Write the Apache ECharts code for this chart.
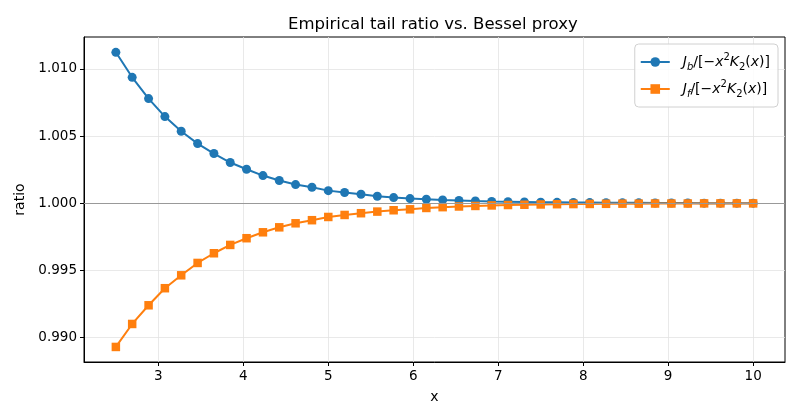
<!DOCTYPE html>
<html lang="en">
<head>
    <meta charset="UTF-8">
    <title>Empirical tail ratio vs. Bessel proxy</title>
    <script src="https://cdn.jsdelivr.net/npm/echarts@6/dist/echarts.min.js"></script>
    <style>
        html, body { margin: 0; padding: 0; background: #fff; }
        #chart { width: 800px; height: 420px; }
    </style>
</head>
<body>
<div id="chart"></div>
<script type="text/javascript">
    // x grid, 40 points from 2.5 to 10
    var xs = [2.5, 2.692, 2.885, 3.077, 3.269, 3.462, 3.654, 3.846, 4.038, 4.231,
        4.423, 4.615, 4.808, 5.0, 5.192, 5.385, 5.577, 5.769, 5.962, 6.154,
        6.346, 6.538, 6.731, 6.923, 7.115, 7.308, 7.5, 7.692, 7.885, 8.077,
        8.269, 8.462, 8.654, 8.846, 9.038, 9.231, 9.423, 9.615, 9.808, 10.0];
    // J_b / [-x^2 K_2(x)]
    var boson = [1.01123, 1.00937, 1.00779, 1.00645, 1.00536, 1.00444, 1.00370, 1.00303, 1.00253, 1.00206,
        1.00169, 1.00139, 1.00119, 1.00094, 1.00080, 1.00067, 1.00052, 1.00042, 1.00035, 1.00030,
        1.00025, 1.00021, 1.00017, 1.00014, 1.00012, 1.00010, 1.00008, 1.00007, 1.00006, 1.00005,
        1.00004, 1.00003, 1.00003, 1.00002, 1.00002, 1.00002, 1.00001, 1.00001, 1.00001, 1.00001];
    // J_f / [-x^2 K_2(x)]
    var fermion = [0.98931, 0.99102, 0.99241, 0.99368, 0.99464, 0.99556, 0.99628, 0.99690, 0.99740, 0.99784,
        0.99821, 0.99851, 0.99874, 0.99898, 0.99913, 0.99926, 0.99938, 0.99948, 0.99955, 0.99965,
        0.99971, 0.99976, 0.99980, 0.99984, 0.99987, 0.99989, 0.99991, 0.99993, 0.99994, 0.99995,
        0.99996, 0.99997, 0.99997, 0.99998, 0.99998, 0.99998, 0.99999, 0.99999, 0.99999, 0.99999];
    var xTicks = [3, 4, 5, 6, 7, 8, 9, 10];
    var yTicks = [0.990, 0.995, 1.000, 1.005, 1.010];

    var nameB = 'Jb/[-x^2 K2(x)]';
    var nameF = 'Jf/[-x^2 K2(x)]';
    var legendText = {};
    legendText[nameB] = '{i|J}{sbi|b}{n|/[−}{i|x}{sp|2}{i|K}{sb|2}{n|(}{i|x}{n|)]}';
    legendText[nameF] = '{i|J}{sbi|f}{n|/[−}{i|x}{sp|2}{i|K}{sb|2}{n|(}{i|x}{n|)]}';

    function pairs(ys) {
        return xs.map(function (x, i) { return [x, ys[i]]; });
    }

    var font = 'DejaVu Sans';
    var chart = echarts.init(document.getElementById('chart'));
    var option = {
        animation: false,
        textStyle: { fontFamily: font },
        graphic: [{
            type: 'text',
            left: 434 - 146,
            top: 16,
            style: {
                text: 'Empirical tail ratio vs. Bessel proxy',
                font: '16.5px "DejaVu Sans"',
                fill: '#000'
            }
        }],
        grid: {
            left: 84, right: 15, top: 37, bottom: 58,
            show: true, borderColor: '#000', borderWidth: 1, backgroundColor: 'transparent'
        },
        legend: {
            orient: 'vertical',
            right: 22, top: 44,
            itemWidth: 29, itemHeight: 12, itemGap: 7,
            padding: [8, 8, 8, 5],
            backgroundColor: 'rgba(255,255,255,0.85)',
            borderColor: '#d0d0d0', borderWidth: 1, borderRadius: 4,
            data: [nameB, nameF],
            formatter: function (name) { return legendText[name]; },
            textStyle: {
                fontFamily: font,
                padding: [0, 0, 0, 8],
                rich: {
                    i: { fontSize: 14, fontStyle: 'italic', fontFamily: font, color: '#000', lineHeight: 20 },
                    n: { fontSize: 14, fontFamily: font, color: '#000', lineHeight: 20 },
                    sbi: { fontSize: 10, fontStyle: 'italic', fontFamily: font, color: '#000', verticalAlign: 'bottom', lineHeight: 12 },
                    sb: { fontSize: 10, fontFamily: font, color: '#000', verticalAlign: 'bottom', lineHeight: 12 },
                    sp: { fontSize: 10, fontFamily: font, color: '#000', verticalAlign: 'top', lineHeight: 12 }
                }
            }
        },
        xAxis: {
            type: 'value',
            min: 2.125, max: 10.375,
            name: 'x',
            nameLocation: 'middle',
            nameGap: 28,
            nameTextStyle: { fontSize: 14, color: '#000', fontFamily: font },
            axisLine: { show: true, onZero: false, lineStyle: { color: '#000', width: 1 } },
            axisTick: { show: true, length: 4, customValues: xTicks, lineStyle: { color: '#000' } },
            axisLabel: { customValues: xTicks, margin: 7, fontSize: 13.5, color: '#000', fontFamily: font },
            splitLine: { show: true, lineStyle: { color: '#e3e3e3', width: 0.8 } }
        },
        yAxis: {
            type: 'value',
            min: 0.98819, max: 1.01237,
            name: 'ratio',
            nameLocation: 'middle',
            nameGap: 55,
            nameTextStyle: { fontSize: 14, color: '#000', fontFamily: font },
            axisLine: { show: true, onZero: false, lineStyle: { color: '#000', width: 1 } },
            axisTick: { show: true, length: 4, customValues: yTicks, lineStyle: { color: '#000' } },
            axisLabel: {
                customValues: yTicks, margin: 7, fontSize: 13.5, color: '#000', fontFamily: font,
                formatter: function (v) { return v.toFixed(3); }
            },
            splitLine: { show: true, lineStyle: { color: '#e3e3e3', width: 0.8 } }
        },
        series: [
            {
                name: nameB,
                type: 'line',
                data: pairs(boson),
                symbol: 'circle',
                symbolSize: 9,
                color: '#1f77b4',
                lineStyle: { width: 2, color: '#1f77b4' },
                itemStyle: { color: '#1f77b4' },
                markLine: {
                    silent: true,
                    symbol: 'none',
                    label: { show: false },
                    lineStyle: { color: '#999', width: 1.2, type: 'solid' },
                    data: [{ yAxis: 1.0 }]
                }
            },
            {
                name: nameF,
                type: 'line',
                data: pairs(fermion),
                symbol: 'rect',
                symbolSize: 8.5,
                color: '#ff7f0e',
                lineStyle: { width: 2, color: '#ff7f0e' },
                itemStyle: { color: '#ff7f0e' }
            }
        ]
    };
    chart.setOption(option);
</script>
</body>
</html>
